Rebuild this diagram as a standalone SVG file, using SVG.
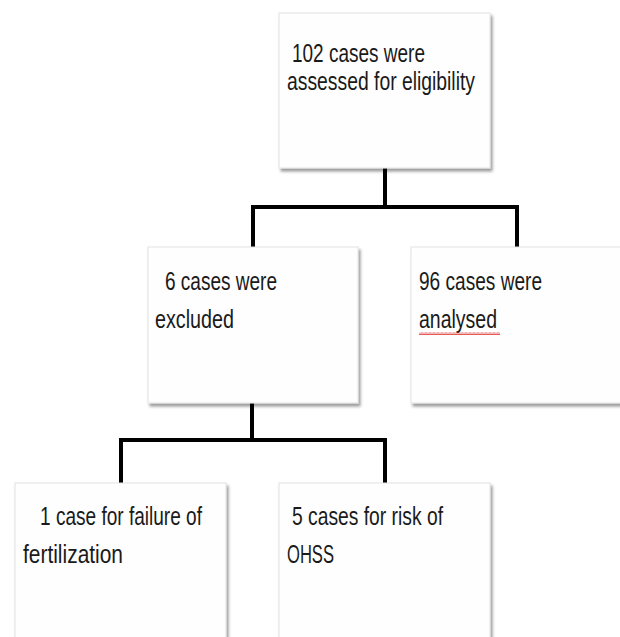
<svg xmlns="http://www.w3.org/2000/svg" width="620" height="637" viewBox="0 0 620 637">
<defs>
<filter id="sh" x="-10%" y="-10%" width="130%" height="130%">
<feGaussianBlur in="SourceAlpha" stdDeviation="1.5"/>
<feOffset dx="2" dy="3" result="b"/>
<feComponentTransfer><feFuncA type="linear" slope="0.4"/></feComponentTransfer>
<feMerge><feMergeNode/><feMergeNode in="SourceGraphic"/></feMerge>
</filter>
<pattern id="wave" width="4" height="3" patternUnits="userSpaceOnUse">
<path d="M0 2.5 L1 0.5 L2 2.5 L3 0.5 L4 2.5" fill="none" stroke="#e03030" stroke-width="0.8"/>
</pattern>
</defs>
<style>
.box{fill:#fefefe;stroke:#e2e2e2;stroke-width:1;filter:url(#sh)}
.t{font-family:"Liberation Sans",Arial,sans-serif;font-size:25px;fill:#1a1a1a}
.c{fill:none;stroke:#000;stroke-width:4;stroke-linejoin:miter}
</style>
<rect width="620" height="637" fill="#fff"/>
<g id="connectors">
<path class="c" d="M385 168 V207 M253 207 H517 M253 205 V247 M517 205 V247"/>
<path class="c" d="M252 403 V440 M121 440 H385 M121 438 V483 M385 438 V483"/>
</g>
<g id="node-top">
<rect class="box" x="279" y="13" width="211" height="155"/>
<text class="t" x="292" y="62" textLength="133" lengthAdjust="spacingAndGlyphs">102 cases were</text>
<text class="t" x="287" y="90" textLength="188" lengthAdjust="spacingAndGlyphs">assessed for eligibility</text>
</g>
<g id="node-excluded">
<rect class="box" x="148" y="247" width="210" height="156"/>
<text class="t" x="165" y="290" textLength="112" lengthAdjust="spacingAndGlyphs">6 cases were</text>
<text class="t" x="155" y="328" textLength="79" lengthAdjust="spacingAndGlyphs">excluded</text>
</g>
<g id="node-analysed">
<rect class="box" x="411" y="247" width="215" height="156"/>
<text class="t" x="419" y="290" textLength="123" lengthAdjust="spacingAndGlyphs">96 cases were</text>
<text class="t" x="419" y="328" textLength="78" lengthAdjust="spacingAndGlyphs">analysed</text>
<rect x="419" y="332" width="81" height="3" fill="url(#wave)"/>
</g>
<g id="node-fertilization">
<rect class="box" x="15" y="483" width="211" height="170"/>
<text class="t" x="40" y="525" textLength="162" lengthAdjust="spacingAndGlyphs">1 case for failure of</text>
<text class="t" x="23" y="563" textLength="100" lengthAdjust="spacingAndGlyphs">fertilization</text>
</g>
<g id="node-ohss">
<rect class="box" x="279" y="483" width="211" height="170"/>
<text class="t" x="292" y="525" textLength="151" lengthAdjust="spacingAndGlyphs">5 cases for risk of</text>
<text class="t" x="287" y="563" textLength="47" lengthAdjust="spacingAndGlyphs">OHSS</text>
</g>
</svg>
